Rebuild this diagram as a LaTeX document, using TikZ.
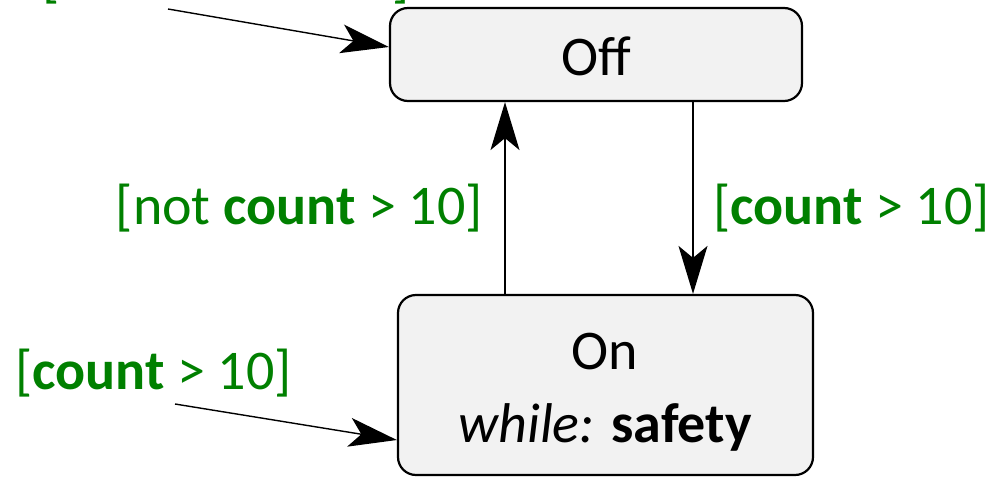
\documentclass[tikz,border=0pt]{standalone}
\usepackage{fontspec}
\setmainfont{Carlito}
\usetikzlibrary{arrows.meta}
\definecolor{guardgreen}{RGB}{0,128,0}
\definecolor{statefill}{RGB}{242,242,242}
\tikzset{
  statebox/.style={draw=black, line width=2.2pt, fill=statefill,
    rounded corners=18pt, inner sep=0pt},
  trans/.style={line width=1.4pt,
    -{Stealth[length=48pt, width=29pt, inset=12pt]}},
  guard/.style={text=guardgreen, inner sep=0pt, anchor=base},
  statetext/.style={inner sep=0pt, anchor=base},
}
\begin{document}
\begin{tikzpicture}[x=1pt, y=-1pt, font=\fontsize{56}{68}\selectfont]
  \useasboundingbox (0,0) rectangle (997,477);
  \clip (0,0) rectangle (997,477);

  % states
  \node[statebox, minimum width=412pt, minimum height=93pt] (off) at (596,54.5) {};
  \node[statetext] (offname) at (596,75) {Off};
  \node[statebox, minimum width=415pt, minimum height=180pt] (on) at (605.5,385) {};
  \node[statetext] (onname) at (605,369) {On};
  \node[statetext] (onwhile) at (605,442) {\textit{while:} \textbf{safety}};

  % initial transitions
  \coordinate (initoff) at (168,9);
  \coordinate (initon) at (175,404);
  \draw[trans] (initoff) -- ([yshift=7.5pt]off.west);
  \draw[trans] (initon) -- ([yshift=-55pt]on.west);

  % transitions between the states
  \coordinate (upx) at (505,0);
  \coordinate (downx) at (693,0);
  \draw[trans] (on.north -| upx) -- (off.south -| upx);
  \draw[trans] (off.south -| downx) -- (on.north -| downx);

  % guards
  \node[guard] (g0) at (226,-4) {[not \textbf{count} > 10]};
  \node[guard, anchor=base east] (g1) at (483,224) {[not \textbf{count} > 10]};
  \node[guard, anchor=base west] (g2) at (713,224) {[\textbf{count} > 10]};
  \node[guard, anchor=base west] (g3) at (15,389) {[\textbf{count} > 10]};
\end{tikzpicture}
\end{document}
